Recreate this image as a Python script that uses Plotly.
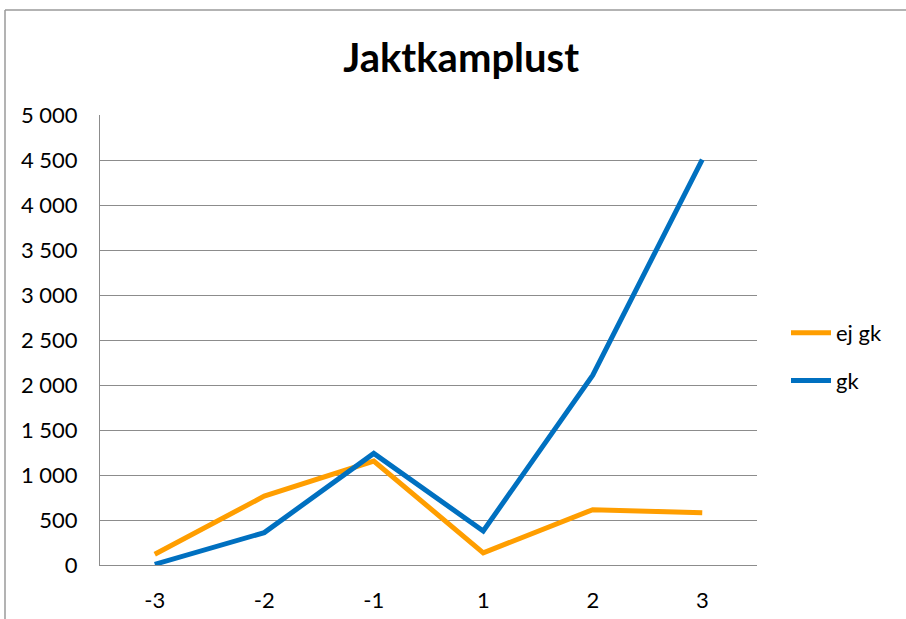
import plotly.graph_objects as go

categories = ["-3", "-2", "-1", "1", "2", "3"]
ej_gk = [120, 765, 1155, 135, 615, 580]
gk = [8, 360, 1240, 378, 2110, 4505]
y_ticks = [0, 500, 1000, 1500, 2000, 2500, 3000, 3500, 4000, 4500, 5000]

FONT = "Lato, Open Sans, sans-serif"
GRID = "#8c8c8c"

fig = go.Figure()
fig.add_trace(go.Scatter(x=categories, y=ej_gk, mode="lines", name="ej gk",
                         legendgroup="a",
                         line=dict(color="#FF9E00", width=5)))
fig.add_trace(go.Scatter(x=categories, y=gk, mode="lines", name="gk",
                         legendgroup="b",
                         line=dict(color="#0070C0", width=5)))

W, H = 906, 619
L, R, T, B = 100, 149, 115, 54
pw, ph = W - L - R, H - T - B

def px_x(p):
    return (p - L) / pw

def px_y(p):
    return (H - B - p) / ph

fig.update_layout(
    width=W, height=H,
    margin=dict(l=L, r=R, t=T, b=B, autoexpand=False),
    paper_bgcolor="white", plot_bgcolor="white",
    separators=", ",
    font=dict(family=FONT, size=22, color="black"),
    title=dict(text="<b>Jaktkamplust</b>", x=0.509, xanchor="center",
               y=1 - 58 / H, yanchor="middle",
               font=dict(family=FONT, size=40, color="black")),
    xaxis=dict(type="category", categoryorder="array", categoryarray=categories,
               range=[-0.5, 5.5], showgrid=False, showline=True,
               linecolor=GRID, linewidth=1, ticks="", ticklabelstandoff=16,
               tickfont=dict(size=22), fixedrange=True, automargin=False),
    yaxis=dict(range=[0, 5000], tickvals=y_ticks, tickformat=",d",
               showgrid=True, gridcolor=GRID, gridwidth=1,
               showline=True, linecolor=GRID, linewidth=1,
               zeroline=False, ticks="", ticklabelstandoff=17,
               tickfont=dict(size=22), fixedrange=True, automargin=False),
    legend=dict(x=px_x(786), y=px_y(312), xanchor="left", yanchor="top",
                font=dict(size=22), tracegroupgap=16,
                bgcolor="rgba(0,0,0,0)", itemwidth=40),
    shapes=[
        dict(type="line", xref="paper", yref="paper",
             x0=px_x(5), x1=px_x(5), y0=px_y(10), y1=px_y(625),
             line=dict(color="#9a9a9a", width=1.5)),
        dict(type="line", xref="paper", yref="paper",
             x0=px_x(5), x1=px_x(912), y0=px_y(10), y1=px_y(10),
             line=dict(color="#9a9a9a", width=1.5)),
    ],
)

fig.write_html("out.html", config={"displayModeBar": False},
               post_script="document.body.style.margin='0';document.body.style.overflow='hidden';")
